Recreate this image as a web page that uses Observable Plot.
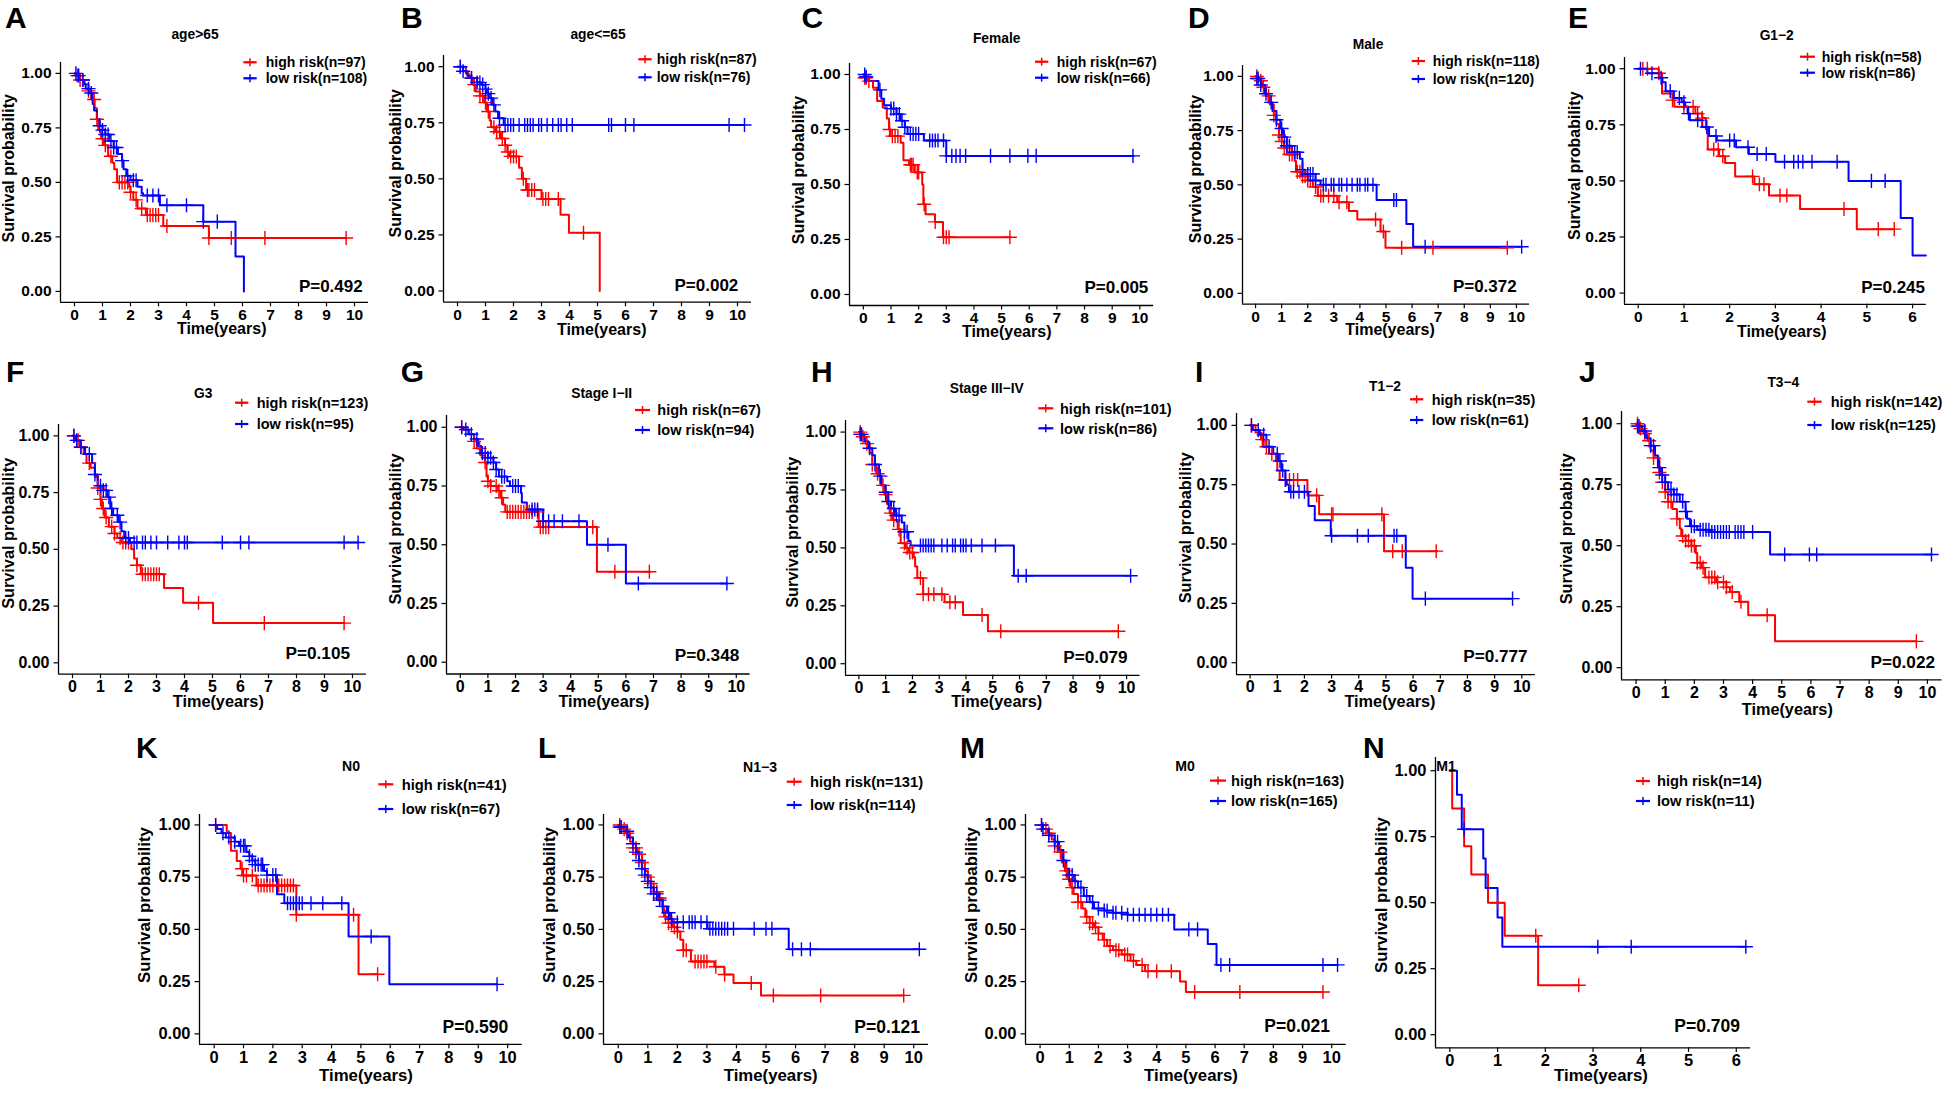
<!DOCTYPE html>
<html><head><meta charset="utf-8">
<script src="https://cdn.jsdelivr.net/npm/d3@7"></script>
<script src="https://cdn.jsdelivr.net/npm/@observablehq/plot@0.6"></script>
<style>
body{margin:0;background:#fff;}
#fig{position:relative;width:1946px;height:1094px;overflow:hidden;background:#fff;}
</style></head><body><div id="fig"></div>
<script>
// ---------------- DATA ----------------
const panelLetters = ["A","B","C","D","E","F","G","H","I","J","K","L","M","N"];
const panelTitles = ["age>65","age<=65","Female","Male","G1\u22122","G3","Stage I\u2212II","Stage III\u2212IV","T1\u22122","T3\u22124","N0","N1\u22123","M0","M1"];
const highN = [97,87,67,118,58,123,67,101,35,142,41,131,163,14];
const lowN  = [108,76,66,120,86,95,94,86,61,125,67,114,165,11];
const pValues = ["0.492","0.002","0.005","0.372","0.245","0.105","0.348","0.079","0.777","0.022","0.590","0.121","0.021","0.709"];
const xTickMax = [10,10,10,10,6,10,10,10,10,10,10,10,10,6];
const yTicks = [0,0.25,0.5,0.75,1];

// Kaplan-Meier steps: [time (years), survival after that time]
const A_high = [[0,1],[0.1,0.99],[0.2,0.97],[0.35,0.95],[0.5,0.92],[0.6,0.88],[0.72,0.84],[0.8,0.79],[0.85,0.74],[0.95,0.70],[1.05,0.67],[1.2,0.62],[1.35,0.59],[1.42,0.56],[1.52,0.50],[1.95,0.48],[2.0,0.455],[2.1,0.42],[2.25,0.38],[2.55,0.35],[3.17,0.30],[4.8,0.245],[9.7,0.245]];
const A_highCens = [0.1,0.2,0.3,0.5,0.7,0.8,1.0,1.1,1.3,1.6,1.7,1.8,1.9,2.0,2.2,2.4,2.6,2.7,2.8,2.9,3.0,3.3,4.8,5.6,6.8,9.7];
const A_low = [[0,1],[0.1,0.99],[0.2,0.97],[0.35,0.95],[0.4,0.93],[0.55,0.91],[0.65,0.86],[0.7,0.83],[0.8,0.79],[0.9,0.76],[1.0,0.74],[1.1,0.72],[1.25,0.69],[1.4,0.66],[1.55,0.63],[1.7,0.60],[1.75,0.56],[1.85,0.53],[2.0,0.51],[2.25,0.48],[2.4,0.45],[2.45,0.44],[3.05,0.395],[4.6,0.32],[5.75,0.16],[6.05,0]];
const A_lowCens = [0.05,0.15,0.3,0.5,0.6,0.9,1.0,1.1,1.2,1.3,1.4,1.5,1.7,1.9,2.1,2.2,2.6,2.8,3.0,3.3,4.0,4.6,5.1];

const B_high = [[0,1],[0.3,0.97],[0.4,0.95],[0.55,0.92],[0.65,0.89],[0.8,0.87],[0.95,0.84],[1.05,0.80],[1.15,0.76],[1.2,0.73],[1.35,0.71],[1.55,0.68],[1.7,0.65],[1.78,0.62],[1.85,0.60],[2.2,0.55],[2.3,0.50],[2.45,0.45],[3.0,0.41],[3.68,0.34],[3.98,0.26],[5.08,0]];
const B_highCens = [0.1,0.5,0.6,0.8,0.9,1.0,1.1,1.3,1.4,1.5,1.6,1.7,1.8,1.9,2.0,2.1,2.35,2.5,2.55,2.65,2.75,3.05,3.15,3.25,3.6,4.5];
const B_low = [[0,1],[0.2,0.98],[0.35,0.96],[0.5,0.95],[0.7,0.93],[0.85,0.92],[1.0,0.90],[1.05,0.88],[1.15,0.86],[1.25,0.83],[1.35,0.80],[1.45,0.77],[1.65,0.74],[10.25,0.74]];
const B_lowCens = [0.1,0.2,0.5,0.7,0.8,0.9,1.0,1.1,1.2,1.3,1.5,1.7,1.8,1.9,2.0,2.2,2.4,2.5,2.6,2.7,2.9,3.0,3.2,3.4,3.6,3.7,3.9,4.1,5.4,5.5,6.0,6.3,9.7,10.25];

const C_high = [[0,1],[0.05,0.985],[0.15,0.97],[0.35,0.94],[0.5,0.88],[0.7,0.85],[0.85,0.80],[0.93,0.75],[0.99,0.72],[1.35,0.69],[1.45,0.61],[1.65,0.59],[1.86,0.555],[2.13,0.50],[2.17,0.41],[2.25,0.365],[2.59,0.33],[2.88,0.26],[5.33,0.26]];
const C_highCens = [0.05,0.1,0.2,0.95,1.05,1.15,1.25,1.7,1.75,1.8,1.95,2.0,2.2,2.6,2.9,3.0,3.1,5.3];
const C_low = [[0,1],[0.1,0.99],[0.2,0.97],[0.55,0.93],[0.65,0.89],[0.75,0.86],[1.0,0.845],[1.2,0.82],[1.35,0.79],[1.5,0.76],[1.6,0.73],[2.19,0.70],[3.0,0.63],[9.78,0.63]];
const C_lowCens = [0.05,0.1,0.6,1.0,1.1,1.2,1.3,1.4,1.5,1.7,1.8,1.9,2.0,2.4,2.5,2.6,2.7,2.9,3.0,3.2,3.35,3.5,3.7,4.6,5.3,5.95,6.25,9.75];

const D_high = [[0,1],[0.1,0.98],[0.25,0.95],[0.4,0.91],[0.55,0.87],[0.7,0.82],[0.8,0.78],[0.9,0.73],[1.0,0.70],[1.1,0.67],[1.2,0.64],[1.5,0.61],[1.55,0.56],[1.75,0.54],[2.0,0.52],[2.2,0.49],[2.39,0.45],[3.13,0.42],[3.58,0.38],[3.9,0.34],[4.79,0.285],[4.98,0.21],[9.65,0.21]];
const D_highCens = [0.05,0.2,0.3,0.5,0.7,0.9,1.0,1.1,1.3,1.4,1.6,1.7,1.8,1.9,2.0,2.1,2.3,2.5,2.6,2.8,3.0,3.2,3.5,4.6,4.9,5.6,6.8,9.65];
const D_low = [[0,1],[0.05,0.99],[0.2,0.96],[0.35,0.92],[0.5,0.88],[0.65,0.84],[0.8,0.80],[0.95,0.76],[1.05,0.72],[1.2,0.68],[1.4,0.65],[1.7,0.62],[1.8,0.57],[1.9,0.55],[2.3,0.52],[2.49,0.50],[4.64,0.43],[5.78,0.32],[6.04,0.215],[10.2,0.215]];
const D_lowCens = [0.05,0.1,0.2,0.4,0.6,0.8,1.0,1.1,1.2,1.3,1.5,1.6,1.8,2.0,2.1,2.2,2.3,2.6,2.7,2.9,3.0,3.2,3.3,3.5,3.7,3.9,4.0,4.2,4.3,4.5,5.3,5.4,6.5,10.2];

const E_high = [[0,1],[0.45,0.98],[0.52,0.89],[0.75,0.86],[0.79,0.83],[1.25,0.80],[1.4,0.78],[1.48,0.73],[1.52,0.64],[1.77,0.61],[1.9,0.58],[2.12,0.52],[2.54,0.485],[2.86,0.435],[3.54,0.375],[4.78,0.285],[5.6,0.285]];
const E_highCens = [0.1,0.2,0.45,0.75,1.0,1.2,1.3,1.4,1.65,1.75,1.85,2.5,2.65,2.75,3.1,3.25,4.5,5.25,5.6];
const E_low = [[0,1],[0.2,0.98],[0.45,0.96],[0.53,0.94],[0.6,0.90],[0.78,0.87],[0.95,0.85],[1.03,0.83],[1.08,0.80],[1.13,0.77],[1.4,0.74],[1.55,0.70],[1.72,0.68],[2.14,0.65],[2.42,0.62],[3.0,0.585],[4.6,0.50],[5.74,0.335],[6.0,0.167],[6.29,0.167]];
const E_lowCens = [0.05,0.3,0.5,0.7,0.9,1.0,1.1,1.3,1.5,1.7,2.0,2.1,2.4,2.6,2.8,3.2,3.4,3.5,3.6,3.8,4.35,5.1,5.4];

const F_high = [[0,1],[0.1,0.98],[0.25,0.95],[0.4,0.92],[0.5,0.88],[0.65,0.86],[0.8,0.82],[0.9,0.77],[1.0,0.72],[1.05,0.68],[1.15,0.64],[1.3,0.60],[1.5,0.57],[1.6,0.55],[1.75,0.53],[2.1,0.50],[2.2,0.46],[2.3,0.43],[2.44,0.39],[3.27,0.33],[3.95,0.265],[5.02,0.175],[9.7,0.175]];
const F_highCens = [0.05,0.2,0.3,0.6,0.9,1.0,1.1,1.2,1.4,1.5,1.7,1.8,1.9,2.0,2.3,2.5,2.6,2.7,2.8,2.9,3.0,3.1,4.5,6.85,9.7];
const F_low = [[0,1],[0.1,0.98],[0.3,0.95],[0.45,0.92],[0.7,0.88],[0.8,0.83],[0.9,0.78],[1.1,0.76],[1.25,0.73],[1.35,0.68],[1.45,0.65],[1.65,0.62],[1.75,0.58],[1.85,0.55],[2.05,0.53],[10.2,0.53]];
const F_lowCens = [0.05,0.15,0.3,0.6,0.8,1.0,1.1,1.2,1.3,1.4,1.6,1.7,1.9,2.0,2.2,2.3,2.5,2.6,2.8,3.0,3.4,3.8,4.0,4.1,5.35,6.0,6.3,9.7,10.2];

const G_high = [[0,1],[0.1,0.99],[0.3,0.97],[0.5,0.94],[0.6,0.91],[0.75,0.88],[0.9,0.85],[0.95,0.79],[1.0,0.77],[1.1,0.75],[1.35,0.73],[1.45,0.70],[1.55,0.67],[1.63,0.64],[2.84,0.575],[4.95,0.385],[6.88,0.385]];
const G_highCens = [0.05,0.5,0.7,0.9,1.0,1.1,1.3,1.4,1.5,1.7,1.8,1.9,2.0,2.1,2.2,2.3,2.4,2.5,2.6,2.8,2.9,3.0,3.1,3.2,4.8,5.6,6.85];
const G_low = [[0,1],[0.1,0.99],[0.3,0.97],[0.5,0.95],[0.65,0.92],[0.75,0.89],[1.0,0.87],[1.2,0.85],[1.3,0.82],[1.4,0.79],[1.7,0.77],[1.8,0.75],[2.2,0.72],[2.23,0.68],[2.41,0.65],[3.0,0.60],[4.59,0.50],[6.0,0.335],[9.66,0.335]];
const G_lowCens = [0.05,0.2,0.4,0.6,0.8,0.9,1.0,1.1,1.2,1.3,1.5,1.6,1.9,2.0,2.1,2.6,2.7,2.8,3.0,3.2,3.4,3.7,4.3,5.35,6.45,9.66];

const H_high = [[0,1],[0.1,0.98],[0.25,0.95],[0.4,0.91],[0.5,0.86],[0.65,0.82],[0.8,0.77],[0.95,0.73],[1.05,0.69],[1.15,0.65],[1.25,0.62],[1.45,0.58],[1.56,0.52],[1.75,0.50],[1.87,0.48],[2.05,0.46],[2.1,0.42],[2.18,0.37],[2.4,0.30],[3.2,0.265],[3.89,0.21],[4.82,0.14],[9.69,0.14]];
const H_highCens = [0.05,0.15,0.3,0.5,0.7,0.9,1.0,1.2,1.3,1.5,1.7,1.8,1.9,2.0,2.3,2.4,2.6,2.8,3.1,3.4,3.6,4.6,5.3,9.69];
const H_low = [[0,1],[0.05,0.99],[0.2,0.96],[0.35,0.93],[0.5,0.90],[0.6,0.86],[0.75,0.81],[0.85,0.77],[1.0,0.74],[1.1,0.70],[1.2,0.67],[1.35,0.64],[1.6,0.61],[1.7,0.57],[1.85,0.53],[1.93,0.51],[5.79,0.38],[10.15,0.38]];
const H_lowCens = [0.05,0.1,0.4,0.6,0.8,1.0,1.1,1.3,1.4,1.5,1.7,1.8,2.3,2.4,2.5,2.6,2.7,2.8,3.1,3.3,3.5,3.6,3.8,3.9,4.0,4.2,4.6,5.1,5.95,6.25,10.15];

const I_high = [[0,1],[0.2,0.97],[0.4,0.94],[0.5,0.91],[0.7,0.88],[0.95,0.85],[1.0,0.81],[1.09,0.77],[2.11,0.705],[2.54,0.625],[4.93,0.47],[6.88,0.47]];
const I_highCens = [0.05,0.45,0.6,0.8,1.3,1.45,1.6,1.75,2.45,3.0,3.05,4.85,5.25,5.6,6.85];
const I_low = [[0,1],[0.1,0.98],[0.35,0.96],[0.6,0.91],[0.85,0.88],[1.05,0.85],[1.15,0.81],[1.3,0.77],[1.35,0.75],[1.43,0.72],[2.15,0.66],[2.38,0.60],[2.97,0.535],[5.73,0.40],[5.98,0.27],[9.66,0.27]];
const I_lowCens = [0.05,0.3,0.5,0.7,1.0,1.1,1.2,1.3,1.5,1.6,1.8,2.0,3.0,3.95,4.35,5.3,5.4,6.45,9.66];

const J_high = [[0,1],[0.1,0.98],[0.25,0.96],[0.4,0.93],[0.5,0.89],[0.6,0.86],[0.8,0.80],[0.9,0.76],[1.0,0.72],[1.1,0.68],[1.25,0.65],[1.4,0.61],[1.5,0.57],[1.55,0.54],[1.7,0.52],[1.9,0.50],[2.05,0.47],[2.1,0.43],[2.25,0.41],[2.37,0.37],[2.75,0.35],[3.1,0.33],[3.22,0.31],[3.54,0.27],[3.85,0.215],[4.77,0.108],[9.62,0.108]];
const J_highCens = [0.05,0.15,0.3,0.45,0.6,0.8,0.9,1.0,1.1,1.2,1.4,1.6,1.7,1.8,1.9,2.0,2.1,2.2,2.3,2.5,2.6,2.7,2.8,3.0,3.1,3.3,3.6,4.5,9.62];
const J_low = [[0,1],[0.05,0.99],[0.2,0.97],[0.35,0.94],[0.5,0.91],[0.65,0.87],[0.75,0.82],[0.85,0.79],[1.0,0.76],[1.1,0.73],[1.3,0.71],[1.5,0.68],[1.7,0.64],[1.75,0.61],[1.85,0.58],[2.1,0.565],[2.54,0.556],[4.6,0.464],[10.14,0.464]];
const J_lowCens = [0.05,0.1,0.3,0.5,0.6,0.8,0.9,1.0,1.2,1.3,1.4,1.6,1.7,1.9,2.0,2.2,2.3,2.4,2.5,2.6,2.7,2.8,2.9,3.0,3.1,3.2,3.4,3.5,3.6,3.7,4.0,5.1,5.95,6.2,10.14];

const K_high = [[0,1],[0.43,0.962],[0.57,0.877],[0.77,0.828],[0.9,0.79],[0.97,0.758],[1.44,0.71],[2.8,0.57],[4.92,0.285],[5.57,0.285]];
const K_highCens = [0.05,0.95,1.0,1.1,1.3,1.5,1.6,1.7,1.8,1.9,2.0,2.2,2.3,2.4,2.5,2.6,2.7,2.8,4.75,5.57];
const K_low = [[0,1],[0.1,0.98],[0.25,0.96],[0.4,0.94],[0.7,0.92],[0.85,0.90],[1.1,0.87],[1.2,0.85],[1.3,0.83],[1.4,0.81],[1.7,0.78],[1.8,0.76],[2.14,0.668],[2.39,0.625],[4.58,0.466],[5.97,0.237],[9.64,0.237]];
const K_lowCens = [0.05,0.3,0.5,0.7,0.9,1.0,1.05,1.2,1.3,1.4,1.5,1.6,1.65,1.8,2.0,2.1,2.5,2.6,2.7,2.8,2.9,3.0,3.3,3.7,4.35,5.35,9.64];

const L_high = [[0,1],[0.1,0.98],[0.25,0.96],[0.4,0.92],[0.5,0.89],[0.65,0.86],[0.8,0.82],[0.9,0.78],[1.0,0.75],[1.1,0.72],[1.2,0.68],[1.35,0.65],[1.5,0.60],[1.55,0.56],[1.7,0.53],[1.85,0.51],[2.0,0.49],[2.1,0.45],[2.2,0.40],[2.46,0.346],[3.25,0.321],[3.59,0.284],[3.9,0.243],[4.83,0.184],[9.66,0.184]];
const L_highCens = [0.05,0.2,0.3,0.5,0.6,0.7,0.8,1.0,1.1,1.3,1.4,1.6,1.7,1.8,1.9,2.0,2.2,2.3,2.6,2.7,2.8,2.9,3.0,3.3,3.6,4.5,5.25,6.85,9.66];
const L_low = [[0,1],[0.05,0.99],[0.2,0.97],[0.35,0.94],[0.5,0.91],[0.6,0.87],[0.7,0.83],[0.8,0.79],[0.9,0.76],[1.0,0.73],[1.1,0.70],[1.2,0.67],[1.35,0.64],[1.5,0.61],[1.65,0.58],[1.75,0.55],[1.84,0.534],[3.02,0.503],[5.77,0.405],[10.19,0.405]];
const L_lowCens = [0.05,0.1,0.3,0.5,0.6,0.7,0.8,0.9,1.0,1.1,1.2,1.3,1.4,1.5,1.7,1.8,2.0,2.2,2.4,2.5,2.6,2.8,3.0,3.1,3.2,3.3,3.4,3.5,3.6,3.7,3.9,4.6,5.0,5.2,5.9,6.2,6.5,10.19];

const M_high = [[0,1],[0.1,0.98],[0.25,0.96],[0.4,0.93],[0.5,0.90],[0.6,0.87],[0.75,0.82],[0.85,0.78],[0.95,0.74],[1.05,0.70],[1.15,0.67],[1.3,0.63],[1.45,0.60],[1.55,0.56],[1.7,0.53],[1.85,0.51],[2.0,0.48],[2.15,0.45],[2.3,0.42],[2.5,0.40],[2.8,0.38],[3.1,0.35],[3.3,0.33],[3.6,0.30],[4.8,0.25],[5.0,0.20],[9.7,0.20]];
const M_highCens = [0.05,0.2,0.3,0.5,0.7,0.9,1.0,1.1,1.3,1.4,1.6,1.7,1.8,1.9,2.0,2.2,2.4,2.6,2.7,2.9,3.0,3.2,3.5,3.7,4.0,4.5,5.3,6.85,9.7];
const M_low = [[0,1],[0.1,0.98],[0.3,0.95],[0.5,0.92],[0.65,0.88],[0.8,0.83],[0.9,0.79],[1.0,0.76],[1.15,0.73],[1.3,0.70],[1.5,0.66],[1.7,0.63],[1.85,0.60],[2.2,0.59],[2.5,0.58],[3.0,0.57],[4.6,0.50],[5.75,0.43],[6.05,0.33],[10.2,0.33]];
const M_lowCens = [0.05,0.1,0.3,0.5,0.6,0.8,1.0,1.1,1.2,1.4,1.6,1.8,2.0,2.2,2.3,2.5,2.6,2.8,3.0,3.2,3.4,3.6,3.8,4.0,4.2,4.4,5.1,5.4,6.2,6.5,9.7,10.2];

const N_high = [[0,1],[0.05,0.857],[0.3,0.714],[0.45,0.607],[0.8,0.5],[1.15,0.375],[1.85,0.1875],[2.7,0.1875]];
const N_highCens = [1.0,1.8,2.7];
const N_low = [[0,1],[0.15,0.909],[0.25,0.778],[0.7,0.667],[0.75,0.556],[1.0,0.444],[1.1,0.333],[6.2,0.333]];
const N_lowCens = [0.3,3.1,3.8,6.2];

const highCurves = [A_high,B_high,C_high,D_high,E_high,F_high,G_high,H_high,I_high,J_high,K_high,L_high,M_high,N_high];
const highCens = [A_highCens,B_highCens,C_highCens,D_highCens,E_highCens,F_highCens,G_highCens,H_highCens,I_highCens,J_highCens,K_highCens,L_highCens,M_highCens,N_highCens];
const lowCurves = [A_low,B_low,C_low,D_low,E_low,F_low,G_low,H_low,I_low,J_low,K_low,L_low,M_low,N_low];
const lowCens = [A_lowCens,B_lowCens,C_lowCens,D_lowCens,E_lowCens,F_lowCens,G_lowCens,H_lowCens,I_lowCens,J_lowCens,K_lowCens,L_lowCens,M_lowCens,N_lowCens];

// ---------------- LAYOUT (pixels) ----------------
// panel frame: [left, right, top, bottom]
const frames = [
  [60,368,62.1,301.9],[442.7,750.7,54.5,301.2],[848.9,1153.1,63,305],[1242,1529,64.5,303.2],[1623.6,1925.4,57.1,303.9],
  [57.7,365.7,424.4,674.1],[446.2,749.8,415,673.5],[844.9,1139.4,420.1,674.9],[1235.7,1534.6,413.1,674.2],[1621.4,1941.9,411.1,679.5],
  [198.6,521.4,813.6,1043.4],[602.5,927.5,813.6,1043.4],[1025.4,1346.2,813.6,1043.4],[1435.2,1750.3,756.8,1047.2]
];
const rowOf = i => i < 5 ? 0 : i < 10 ? 1 : 2;
const tickFont = [15.5, 16, 16.5];
const axisTitleFont = [16, 16.3, 16.8];
const titleFont = [13.8, 13.8, 14.1];
const legendFont = [14, 14.5, 14.7];
const pFont = [17, 17.2, 17.5];
const letterPos = [[5,28.3],[401,28.3],[801.5,28.3],[1188,28.3],[1568,28.3],[6,381.5],[400.7,381.5],[811,381.5],[1195,381.5],[1579,381.5],[136,758.3],[538,758.3],[960,758.3],[1363,758.3]];
const titlePos = [[195,38.5],[598,38.8],[996.7,42.7],[1368,49.3],[1776.7,40],[203.3,398.3],[601.7,398.3],[986.7,392.7],[1385,391],[1783.3,386.7],[351,771],[760,772],[1185,771],[1446,771]];
// legend: [lineLeft, lineRight, row1 y, row2 y, textX]
const legendPos = [
  [243.3,256.7,62.3,78.3,265.7],[638.3,651.7,59.3,77.3,656.7],[1035,1048.3,61.7,77.7,1056.7],[1411.7,1425,61,79,1432.7],[1800,1815,56.7,72.7,1821.7],
  [235,248.3,402.7,424,256.7],[635,650,410,430,657.3],[1038.3,1053.3,408.3,428.3,1060],[1410,1423.3,399.3,420,1431.7],[1807.3,1821.7,401.7,425,1830.7],
  [378.3,393.3,784.3,809,401.7],[786.7,801.7,781.7,805,810],[1210,1226,780.6,801,1231],[1636,1650,781,801,1657]
];
const pPos = [[362.7,292],[738.3,291],[1148.3,293.3],[1516.7,291.7],[1925,292.7],[350,658.7],[739.3,661],[1127.7,662.7],[1527.7,661.7],[1935,667.7],[508.3,1032.7],[920,1032.7],[1330,1032],[1740,1032]];
const yLabPos = [[14,168.3],[400.5,163.3],[804,170],[1201,169],[1580,165.7],[13.5,533.3],[401,529],[798,532.3],[1191,527.7],[1572,528.7],[150,905],[555,905],[977,905],[1387,895]];
const xLabPos = [[221.7,334],[601.7,335],[1006.7,337],[1390,335],[1781.7,337],[218.3,707],[604,707],[996.7,707],[1390,707],[1787.3,714.5],[366,1081],[770.7,1081],[1191,1081],[1601,1081]];

const RED = "#FF0000", BLUE = "#0000FF";
const FONT = "'Liberation Sans', Arial, Helvetica, sans-serif";

// ---------------- DRAW ----------------
function survAt(steps, t) {
  let s = steps[0][1];
  for (const [tt, ss] of steps) { if (tt <= t + 1e-9) s = ss; else break; }
  return s;
}

const fig = document.getElementById("fig");
const mL = 64, mR = 8, mT = 6, mB = 26;

panelLetters.forEach((_, i) => {
  const [L, R, T, B] = frames[i];
  const tmax = xTickMax[i];
  const pad = tmax * 0.05;
  const r = rowOf(i);
  const hi = highCurves[i], lo = lowCurves[i];
  const plot = Plot.plot({
    width: R - L + mL + mR,
    height: B - T + mT + mB,
    marginLeft: mL, marginRight: mR, marginTop: mT, marginBottom: mB,
    x: {domain: [-pad, tmax + pad], label: null},
    y: {domain: [-0.05, 1.05], label: null},
    style: {fontFamily: FONT, fontSize: tickFont[r] + "px", fontWeight: "bold", color: "#000", background: "transparent", overflow: "visible"},
    marks: [
      Plot.axisX(d3.range(0, tmax + 1), {tickSize: 4.5, tickPadding: 2, tickFormat: d => String(d), label: null, strokeWidth: 1.2}),
      Plot.axisY(yTicks, {tickSize: 4.5, tickPadding: 4.5, tickFormat: d3.format(".2f"), label: null, strokeWidth: 1.2}),
      Plot.ruleX([-pad], {stroke: "#000", strokeWidth: 1.3}),
      Plot.ruleY([-0.05], {stroke: "#000", strokeWidth: 1.3}),
      Plot.line(hi, {x: d => d[0], y: d => d[1], curve: "step-after", stroke: RED, strokeWidth: 2}),
      Plot.line(lo, {x: d => d[0], y: d => d[1], curve: "step-after", stroke: BLUE, strokeWidth: 2}),
      Plot.dot(highCens[i], {x: d => d, y: d => survAt(hi, d), symbol: "plus", r: 4.6, stroke: RED, strokeWidth: 1.4}),
      Plot.dot(lowCens[i], {x: d => d, y: d => survAt(lo, d), symbol: "plus", r: 4.6, stroke: BLUE, strokeWidth: 1.4})
    ]
  });
  plot.style.position = "absolute";
  plot.style.left = (L - mL) + "px";
  plot.style.top = (T - mT) + "px";
  plot.style.maxWidth = "none";
  fig.appendChild(plot);
});

// text overlay: panel letters, titles, legends, p-values, axis titles
const ov = d3.select(fig).append("svg")
  .attr("width", 1946).attr("height", 1094)
  .style("position", "absolute").style("left", "0px").style("top", "0px")
  .style("pointer-events", "none")
  .attr("font-family", FONT).attr("font-weight", "bold").attr("fill", "#000");

panelLetters.forEach((letter, i) => {
  const r = rowOf(i);
  ov.append("text").attr("x", letterPos[i][0]).attr("y", letterPos[i][1]).attr("font-size", 30).text(letter);
  ov.append("text").attr("x", titlePos[i][0]).attr("y", titlePos[i][1]).attr("font-size", titleFont[r]).attr("text-anchor", "middle").text(panelTitles[i]);
  const [x1, x2, y1, y2, tx] = legendPos[i];
  [[y1, RED, `high risk(n=${highN[i]})`], [y2, BLUE, `low risk(n=${lowN[i]})`]].forEach(([yy, col, lab]) => {
    const cx = (x1 + x2) / 2;
    ov.append("line").attr("x1", x1).attr("x2", x2).attr("y1", yy).attr("y2", yy).attr("stroke", col).attr("stroke-width", 2.2);
    ov.append("line").attr("x1", cx).attr("x2", cx).attr("y1", yy - 4).attr("y2", yy + 4).attr("stroke", col).attr("stroke-width", 1.5);
    ov.append("line").attr("x1", cx - 4).attr("x2", cx + 4).attr("y1", yy).attr("y2", yy).attr("stroke", col).attr("stroke-width", 1.5);
    ov.append("text").attr("x", tx).attr("y", yy).attr("dy", "0.36em").attr("font-size", legendFont[r]).text(lab);
  });
  ov.append("text").attr("x", pPos[i][0]).attr("y", pPos[i][1]).attr("font-size", pFont[r]).attr("text-anchor", "end").text("P=" + pValues[i]);
  ov.append("text").attr("transform", `translate(${yLabPos[i][0]},${yLabPos[i][1]}) rotate(-90)`).attr("font-size", axisTitleFont[r]).attr("text-anchor", "middle").text("Survival probability");
  ov.append("text").attr("x", xLabPos[i][0]).attr("y", xLabPos[i][1]).attr("font-size", axisTitleFont[r]).attr("text-anchor", "middle").text("Time(years)");
});
</script></body></html>
